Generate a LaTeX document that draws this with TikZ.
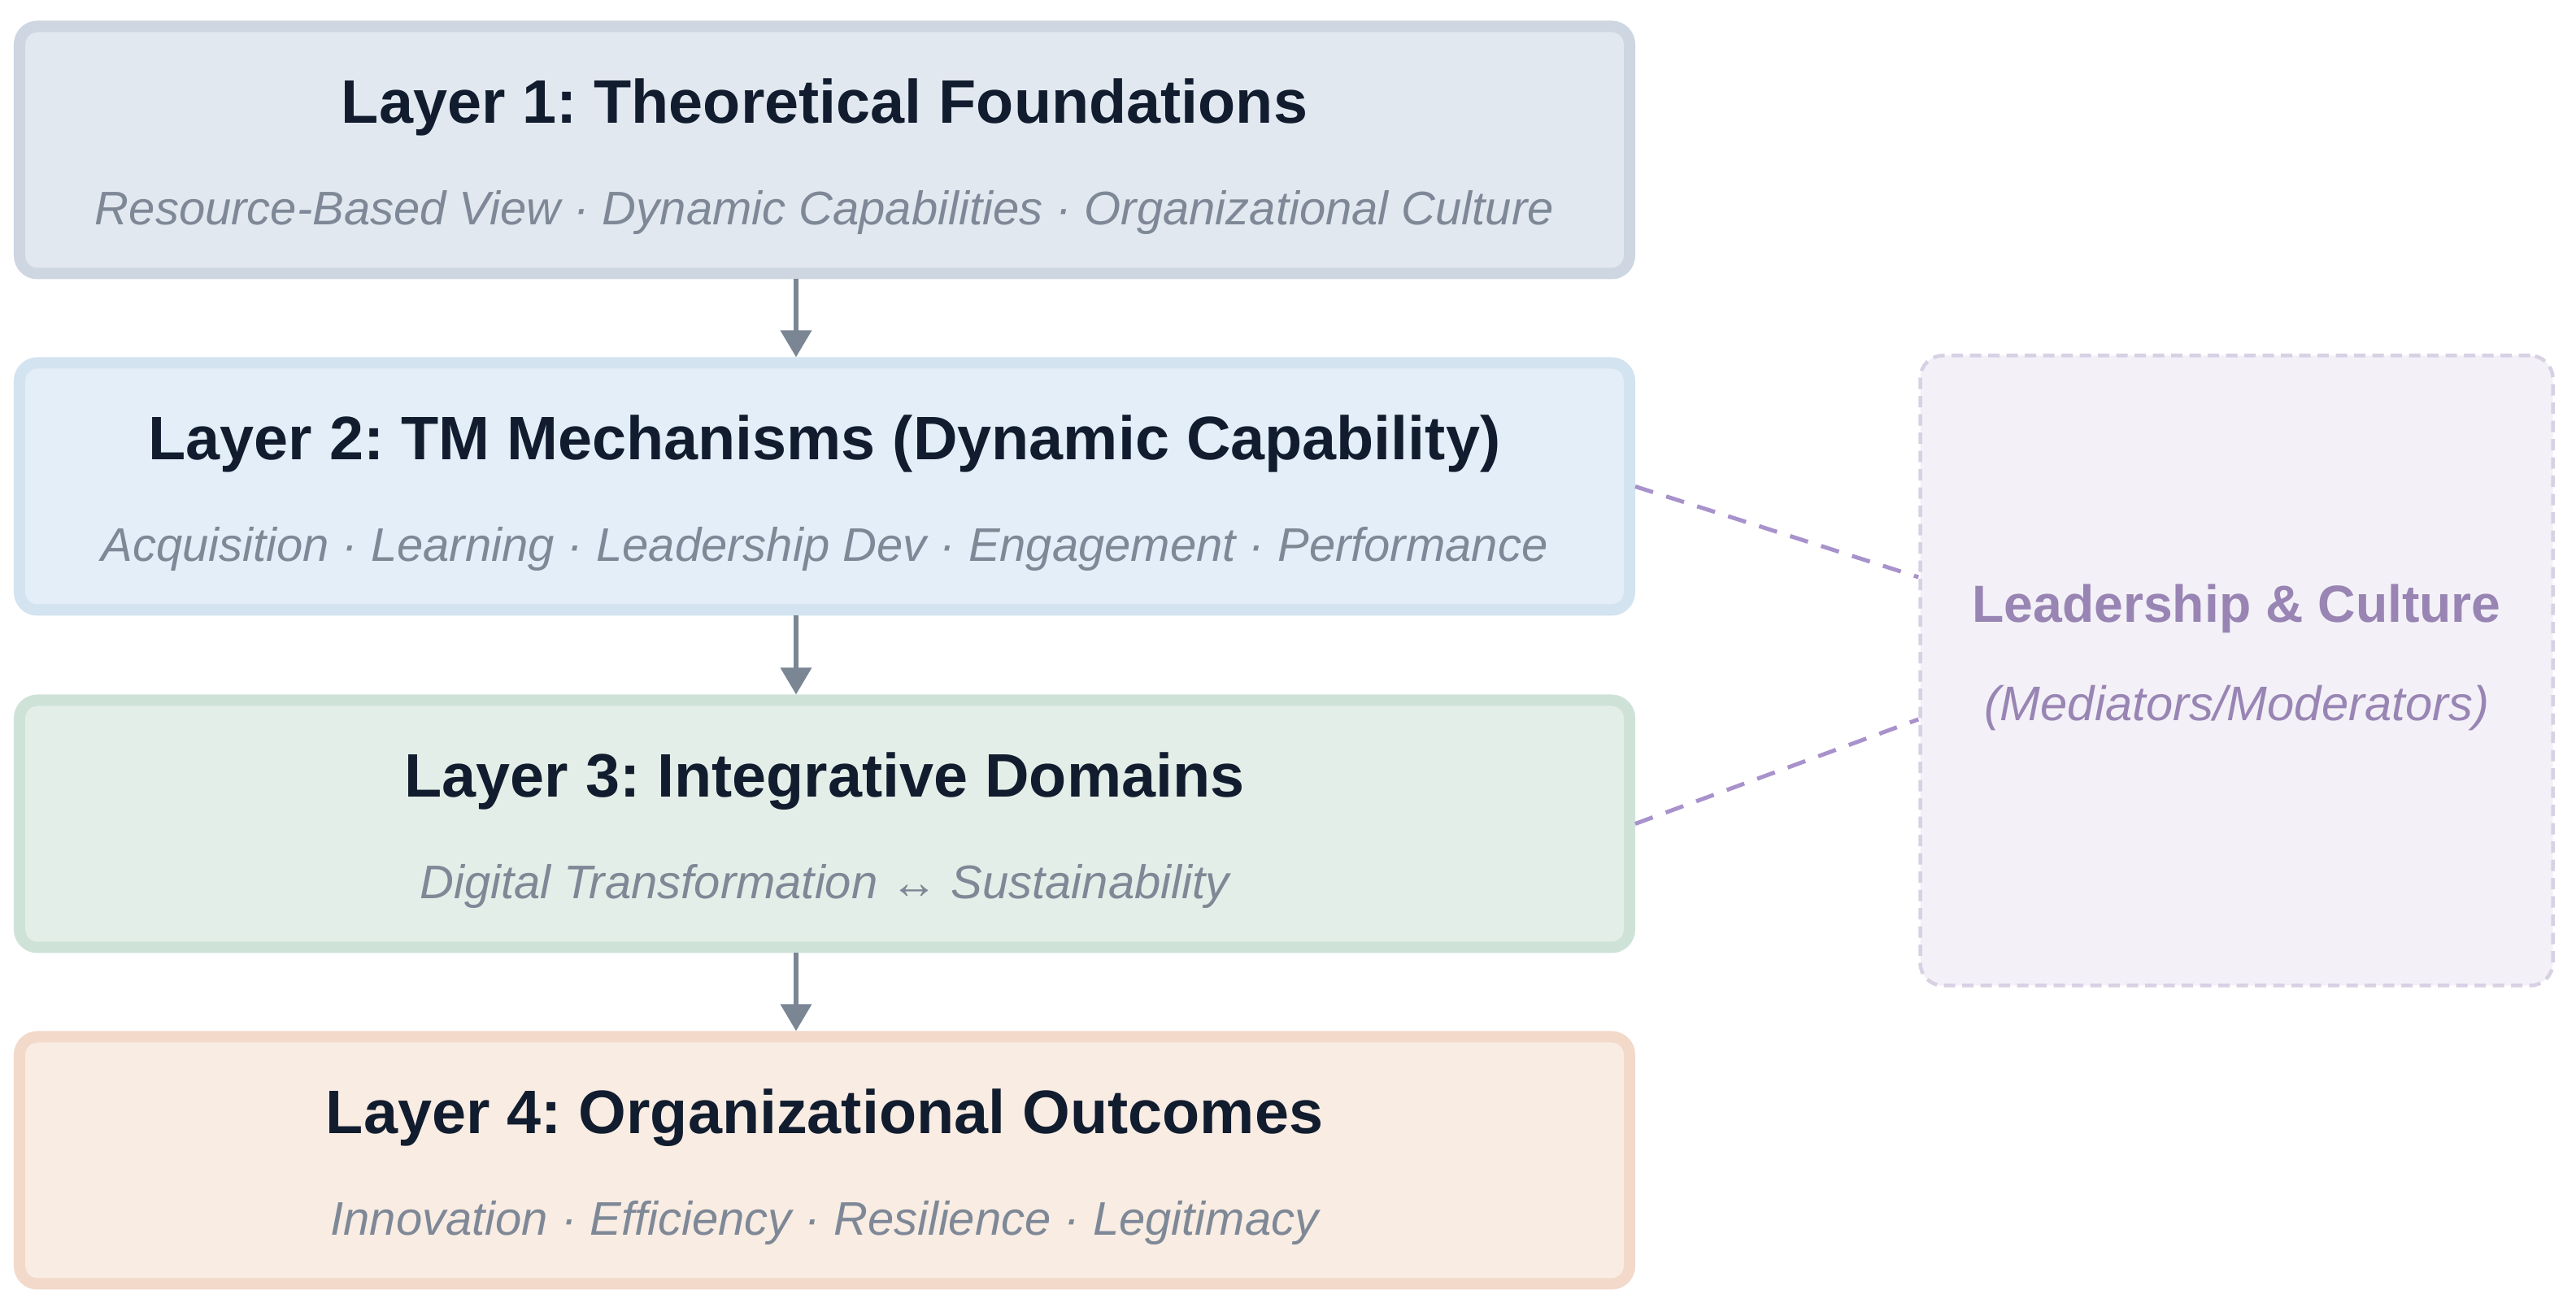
\documentclass[tikz,border=0pt]{standalone}
\usepackage{fontspec}
\setmainfont{Liberation Sans}
\frenchspacing
\usetikzlibrary{arrows.meta,calc}
\definecolor{titlecol}{HTML}{111C2E}
\definecolor{subcol}{HTML}{7E8896}
\definecolor{arrowcol}{HTML}{7A8694}
\definecolor{fillA}{HTML}{E2E8F0}
\definecolor{drawA}{HTML}{CDD6E1}
\definecolor{fillB}{HTML}{E3EEF8}
\definecolor{drawB}{HTML}{D3E3F0}
\definecolor{fillC}{HTML}{E3EEE8}
\definecolor{drawC}{HTML}{CFE2D8}
\definecolor{fillD}{HTML}{F8ECE3}
\definecolor{drawD}{HTML}{F2D9CA}
\definecolor{sidefill}{HTML}{F3F1F7}
\definecolor{sidedraw}{HTML}{D8D1E4}
\definecolor{sidetext}{HTML}{9985B4}
\definecolor{linkcol}{HTML}{A892CC}
\begin{document}
\begin{tikzpicture}[
  layerbox/.style={rectangle, rounded corners=0.22cm, line width=0.14cm,
    minimum width=19.80cm, minimum height=3.04cm, inner sep=0pt},
  ltitle/.style={anchor=base, font=\fontsize{21.5}{25}\selectfont\bfseries, text=titlecol, inner sep=0pt},
  lsub/.style={anchor=base, font=\fontsize{16.5}{20}\selectfont\itshape, text=subcol, inner sep=0pt},
  flowarrow/.style={draw=arrowcol, line width=0.065cm, -{Triangle[length=0.33cm, width=0.37cm]}},
  sidebox/.style={rectangle, rounded corners=0.28cm, line width=0.045cm,
    dash pattern=on 0.14cm off 0.085cm, draw=sidedraw, fill=sidefill,
    minimum width=7.78cm, minimum height=7.75cm, inner sep=0pt},
  sidetitle/.style={anchor=base, font=\fontsize{18.3}{22}\selectfont\bfseries, text=sidetext, inner sep=0pt},
  sidesub/.style={anchor=base, font=\fontsize{17}{20}\selectfont\itshape, text=sidetext, inner sep=0pt},
  link/.style={draw=linkcol, line width=0.05cm, dash pattern=on 0.23cm off 0.17cm}
]
\useasboundingbox[fill=white] (0,0) rectangle (31.68,16.19);

\node[layerbox, fill=fillA, draw=drawA] (l1) at (10.14,14.345) {};
\node[layerbox, fill=fillB, draw=drawB] (l2) at (10.14,10.205) {};
\node[layerbox, fill=fillC, draw=drawC] (l3) at (10.14,6.055) {};
\node[layerbox, fill=fillD, draw=drawD] (l4) at (10.14,1.915) {};

\node[ltitle] (t1) at ($(l1.center)+(0,0.33)$) {Layer 1: Theoretical Foundations};
\node[lsub] (s1) at ($(l1.center)+(0,-0.92)$) {Resource-Based View · Dynamic Capabilities · Organizational Culture};
\node[ltitle] (t2) at ($(l2.center)+(0,0.33)$) {Layer 2: TM Mechanisms (Dynamic Capability)};
\node[lsub] (s2) at ($(l2.center)+(0,-0.92)$) {Acquisition · Learning · Leadership Dev · Engagement · Performance};
\node[ltitle] (t3) at ($(l3.center)+(0,0.33)$) {Layer 3: Integrative Domains};
\node[lsub] (s3) at ($(l3.center)+(0,-0.92)$) {Digital Transformation ↔ Sustainability};
\node[ltitle] (t4) at ($(l4.center)+(0,0.33)$) {Layer 4: Organizational Outcomes};
\node[lsub] (s4) at ($(l4.center)+(0,-0.92)$) {Innovation · Efficiency · Resilience · Legitimacy};

\coordinate (ax) at (9.79,0);
\draw[flowarrow] (l1.south -| ax) -- (l2.north -| ax);
\draw[flowarrow] (l2.south -| ax) -- (l3.north -| ax);
\draw[flowarrow] (l3.south -| ax) -- (l4.north -| ax);

\node[sidebox] (side) at (27.505,7.94) {};
\node[sidetitle] (st) at ($(side.center)+(0,0.59)$) {Leadership \& Culture};
\node[sidesub] (ss) at ($(side.center)+(0,-0.62)$) {(Mediators/Moderators)};

\coordinate (e1) at ($(side.west)+(0,1.15)$);
\coordinate (e2) at ($(side.west)+(0,-0.60)$);
\draw[link] (l2.east) -- (e1);
\draw[link] (l3.east) -- (e2);
\end{tikzpicture}
\end{document}
